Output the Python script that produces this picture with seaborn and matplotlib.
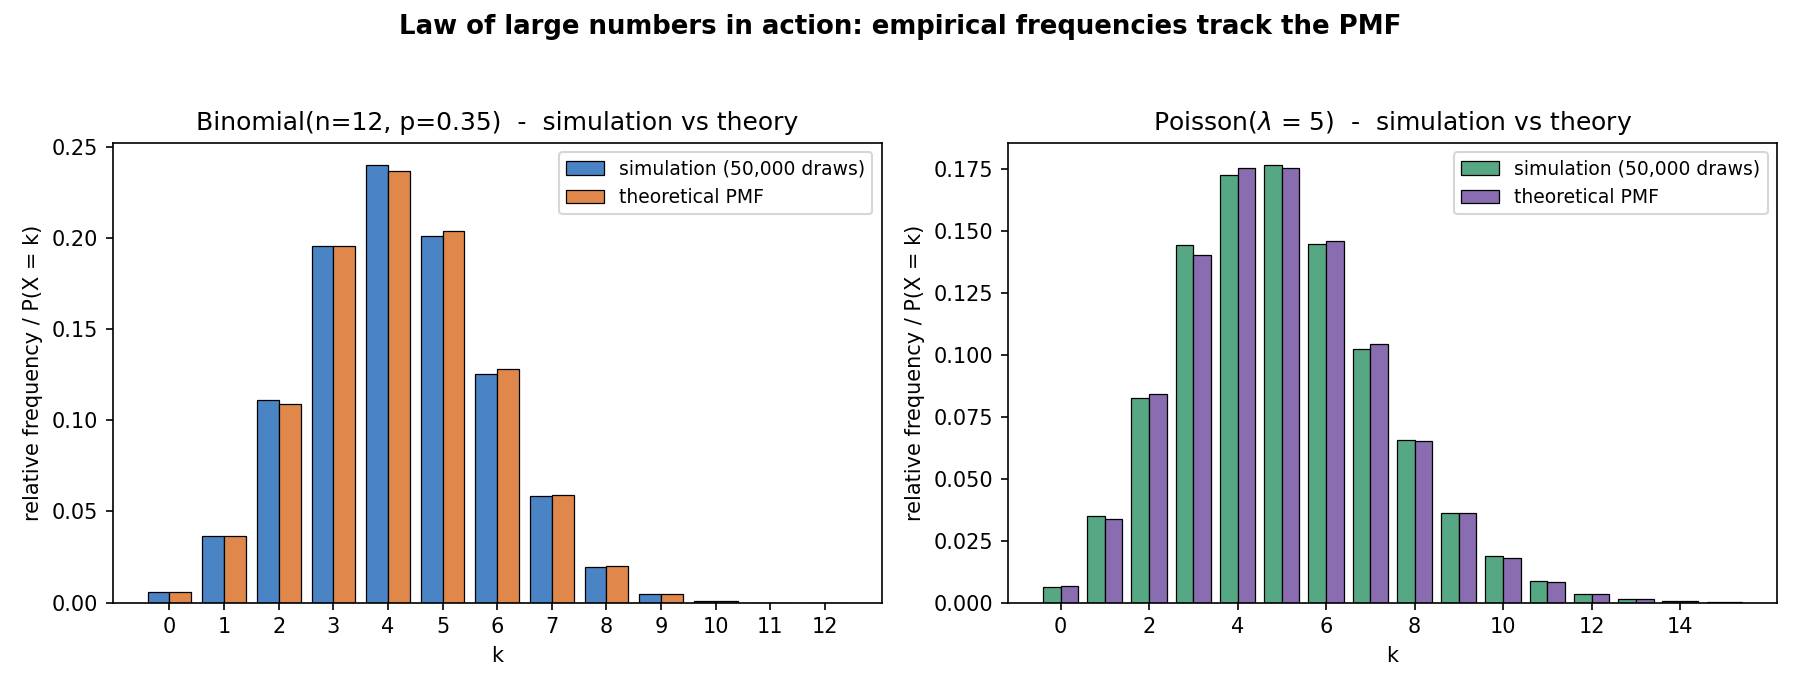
import matplotlib
matplotlib.use("Agg")
import matplotlib.pyplot as plt
import pandas as pd
import seaborn as sns

# binomial(n=12, p=0.35)
binom_k = list(range(13))
binom_sim = [0.0057, 0.0364, 0.1111, 0.1956, 0.2401, 0.2011, 0.1254, 0.0584,
             0.0194, 0.0048, 0.0007, 0.0001, 0.0]
binom_pmf = [0.0057, 0.0368, 0.1088, 0.1954, 0.2367, 0.2039, 0.1281, 0.0591,
             0.0199, 0.0048, 0.0008, 0.0001, 0.0]

# poisson(lambda=5)
pois_k = list(range(16))
pois_sim = [0.0062, 0.0349, 0.0826, 0.1445, 0.1728, 0.1769, 0.1449, 0.1025,
            0.0657, 0.0361, 0.0187, 0.0086, 0.0035, 0.0013, 0.0005, 0.0001]
pois_pmf = [0.0067, 0.0337, 0.0842, 0.1404, 0.1755, 0.1755, 0.1462, 0.1044,
            0.0653, 0.0363, 0.0181, 0.0082, 0.0034, 0.0013, 0.0005, 0.0002]

series = ["simulation (50,000 draws)", "theoretical PMF"]


def long_df(k, sim, pmf):
    return pd.DataFrame({
        "k": k + k,
        "p": sim + pmf,
        "src": [series[0]] * len(k) + [series[1]] * len(k),
    })


plt.rcParams["font.family"] = ["DejaVu Sans"]
plt.rcParams["font.size"] = 10

fig, axes = plt.subplots(1, 2, figsize=(12, 4.6), dpi=150)
fig.subplots_adjust(left=0.0626, right=0.9872, bottom=0.1265, top=0.7932, wspace=0.164)

panels = [
    (long_df(binom_k, binom_sim, binom_pmf), ["#4a84c4", "#e0884c"],
     "Binomial(n=12, p=0.35)  -  simulation vs theory", binom_k),
    (long_df(pois_k, pois_sim, pois_pmf), ["#55a883", "#8a6cb0"],
     r"Poisson($\lambda$ = 5)  -  simulation vs theory", list(range(0, 16, 2))),
]

for ax, (df, pal, ttl, ticks) in zip(axes, panels):
    sns.barplot(data=df, x="k", y="p", hue="src", palette=pal, native_scale=True,
                errorbar=None, edgecolor="black", linewidth=0.6, saturation=1,
                ax=ax)
    ax.set_xticks(ticks)
    ax.set_xlabel("k")
    ax.set_ylabel("relative frequency / P(X = k)")
    ax.set_title(ttl, fontsize=12)
    ax.legend(loc="upper right", fontsize=9)

fig.suptitle("Law of large numbers in action: empirical frequencies track the PMF",
             fontsize=12.5, fontweight="bold", y=0.98)
fig.savefig("out.png", dpi=150)
